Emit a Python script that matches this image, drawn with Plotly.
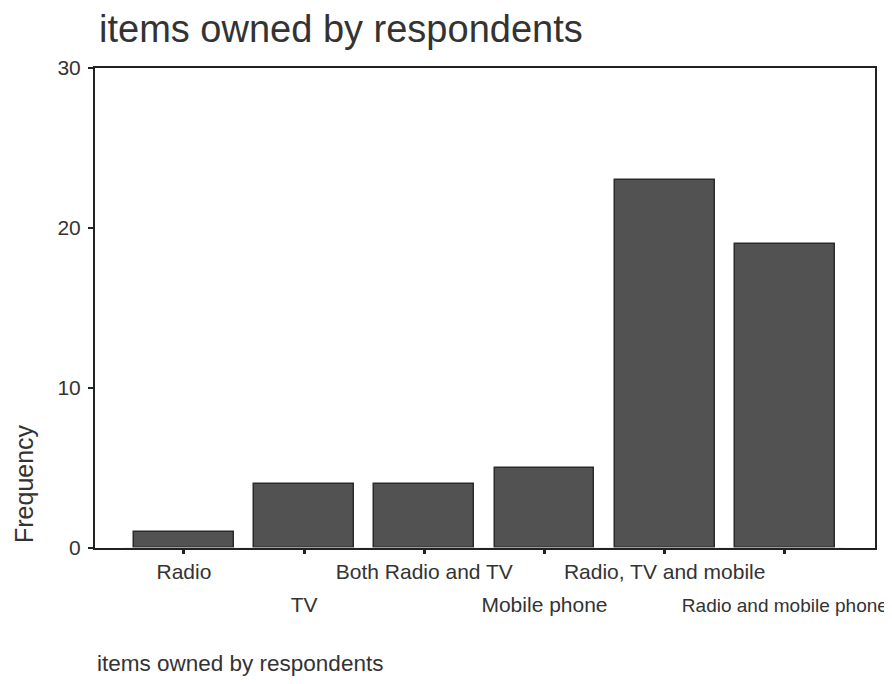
import plotly.graph_objects as go

categories = ["Radio", "TV", "Both Radio and TV", "Mobile phone",
              "Radio, TV and mobile", "Radio and mobile phone"]
frequency = [1, 4, 4, 5, 23, 19]
y_ticks = [0, 10, 20, 30]

FONT = "Liberation Sans, Arial, sans-serif"
TXT = "#333333"

fig = go.Figure()
fig.add_trace(go.Bar(
    x=categories, y=frequency, width=0.83,
    marker=dict(color="#525252", line=dict(color="#2a2a2a", width=1.5)),
    showlegend=False,
))
# invisible trace on second axis to hold staggered labels
fig.add_trace(go.Bar(x=categories, y=[0]*6, xaxis="x2", yaxis="y",
                     marker=dict(color="rgba(0,0,0,0)"), showlegend=False,
                     hoverinfo="skip"))

def label(c, i):
    # the last, long label is set slightly smaller so it stays inside the page
    if i == len(categories) - 1:
        return f"<span style='font-size:19px'>{c}</span>"
    return c

even_text = [label(c, i) if i % 2 == 0 else "" for i, c in enumerate(categories)]
odd_vals = [c for i, c in enumerate(categories) if i % 2 == 1]
odd_text = [label(c, i) for i, c in enumerate(categories) if i % 2 == 1]

X_RANGE = [-0.74, 5.75]
W, H = 884, 676
fig.update_layout(
    width=W, height=H,
    margin=dict(l=87, r=17, t=60, b=136, autoexpand=False),
    paper_bgcolor="white", plot_bgcolor="white",
    font=dict(family=FONT, color=TXT),
    bargap=0,
    annotations=[
        dict(text="items owned by respondents", xref="paper", yref="paper",
             x=(97-95)/780, y=1+(68-29)/480, xanchor="left", yanchor="middle",
             showarrow=False, font=dict(size=38, color=TXT, family=FONT)),
        dict(text="Frequency", textangle=-90, xref="paper", yref="paper",
             x=(24-95)/780, y=(548-484)/480, xanchor="center", yanchor="middle",
             showarrow=False, font=dict(size=25, color=TXT, family=FONT)),
        dict(text="items owned by respondents", xref="paper", yref="paper",
             x=0, y=(548-663)/480, xanchor="left", yanchor="middle",
             showarrow=False, font=dict(size=22.5, color=TXT, family=FONT)),
    ],
    xaxis=dict(
        type="category", categoryorder="array", categoryarray=categories,
        range=X_RANGE, automargin=False,
        tickmode="array", tickvals=categories, ticktext=even_text,
        ticks="outside", ticklen=4, tickwidth=3, tickcolor="#222",
        showline=True, linecolor="#222", linewidth=2, mirror=True,
        showgrid=False, zeroline=False,
        tickfont=dict(size=21, color=TXT),
    ),
    xaxis2=dict(
        type="category", categoryorder="array", categoryarray=categories,
        overlaying="x", side="bottom", anchor="y", range=X_RANGE,
        automargin=False,
        tickmode="array", tickvals=odd_vals, ticktext=odd_text,
        ticks="", showline=False, showgrid=False, zeroline=False,
        ticklabelstandoff=42,
        tickfont=dict(size=21, color=TXT),
    ),
    yaxis=dict(
        range=[0, 30], tickmode="array", tickvals=y_ticks, automargin=False,
        ticks="outside", ticklen=5, tickwidth=2, tickcolor="#222",
        ticklabelstandoff=3,
        showline=True, linecolor="#222", linewidth=2, mirror=True,
        showgrid=False, zeroline=False,
        tickfont=dict(size=21, color=TXT),
    ),
)

fig.write_html("out.html")
